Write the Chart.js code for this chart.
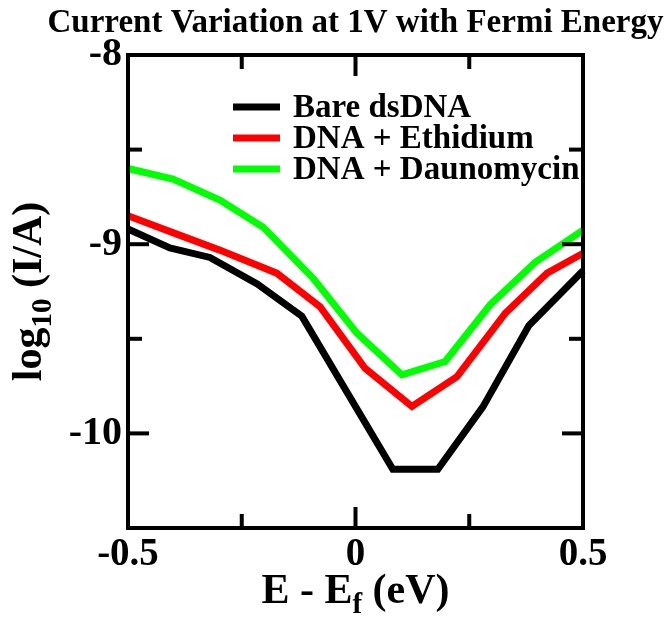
<!DOCTYPE html>
<html><head><meta charset="utf-8">
<script src="https://cdn.jsdelivr.net/npm/chart.js@4/dist/chart.umd.min.js"></script>
<style>html,body{margin:0;padding:0;background:#fff;font-family:'Liberation Serif',serif;}canvas{display:block;}</style>
</head><body>
<canvas id="c" width="669" height="620"></canvas>
<script>
const titleText = 'Current Variation at 1V with Fermi Energy';
const seriesNames = ['Bare dsDNA', 'DNA + Ethidium', 'DNA + Daunomycin'];
const seriesColors = ['#000000', '#ff0000', '#00ff00'];

const bareX = [-0.5, -0.408, -0.32, -0.216, -0.118, 0.082, 0.131, 0.181, 0.28, 0.381, 0.5];
const bareY = [-8.92, -9.02, -9.07, -9.21, -9.38, -10.19, -10.19, -10.19, -9.86, -9.43, -9.14];

const ethX = [-0.5, -0.4, -0.3, -0.173, -0.078, 0.021, 0.124, 0.223, 0.329, 0.421, 0.5];
const ethY = [-8.85, -8.94, -9.03, -9.153, -9.33, -9.656, -9.857, -9.70, -9.365, -9.153, -9.048];

const dauX = [-0.5, -0.401, -0.298, -0.203, -0.093, 0.003, 0.102, 0.197, 0.296, 0.395, 0.5];
const dauY = [-8.60, -8.656, -8.767, -8.91, -9.18, -9.47, -9.69, -9.62, -9.32, -9.095, -8.926];

const xMajorTicks = [-0.5, 0, 0.5];
const yMajorTicks = [-8, -9, -10];

const FONT = "Liberation Serif, Tinos, Times New Roman, DejaVu Serif, serif";

function pts(xs, ys) { return xs.map((x, i) => ({x: x, y: ys[i]})); }

const frameTicks = {
  id: 'frameTicks',
  afterDatasetsDraw(chart) {
    const {ctx, chartArea: a, scales: {x, y}} = chart;
    ctx.save();
    ctx.strokeStyle = '#000';
    ctx.lineWidth = 4;
    ctx.lineCap = 'butt';
    const line = (x1, y1, x2, y2) => { ctx.beginPath(); ctx.moveTo(x1, y1); ctx.lineTo(x2, y2); ctx.stroke(); };
    x.ticks.forEach(t => {
      const px = x.getPixelForValue(t.value);
      const len = xMajorTicks.includes(t.value) ? 21 : 14;
      line(px, a.bottom, px, a.bottom - len);
      line(px, a.top, px, a.top + len);
    });
    y.ticks.forEach(t => {
      const py = y.getPixelForValue(t.value);
      const len = yMajorTicks.includes(t.value) ? 21 : 14;
      line(a.left, py, a.left + len, py);
      line(a.right, py, a.right - len, py);
    });
    ctx.strokeRect(a.left, a.top, a.right - a.left, a.bottom - a.top);
    ctx.restore();
  }
};

const texts = {
  id: 'texts',
  afterDraw(chart) {
    const {ctx, chartArea: a} = chart;
    const cx = (a.left + a.right) / 2;
    const cy = (a.top + a.bottom) / 2;
    ctx.save();
    ctx.fillStyle = '#000';
    ctx.textBaseline = 'alphabetic';
    ctx.font = 'bold 33px ' + FONT;
    ctx.textAlign = 'center';
    ctx.fillText(titleText, cx, 32);

    ctx.textAlign = 'left';
    const big = 'bold 42px ' + FONT, small = 'bold 29px ' + FONT;
    const partsX = [['E - E', big, 0], ['f', small, 10], [' (eV)', big, 0]];
    let w = 0;
    partsX.forEach(p => { ctx.font = p[1]; w += ctx.measureText(p[0]).width; });
    let px = cx - w / 2;
    partsX.forEach(p => { ctx.font = p[1]; ctx.fillText(p[0], px, 603 + p[2]); px += ctx.measureText(p[0]).width; });

    ctx.translate(41, cy);
    ctx.rotate(-Math.PI / 2);
    const partsY = [['log', big, 0], ['10', small, 10], [' (I/A)', big, 0]];
    w = 0;
    partsY.forEach(p => { ctx.font = p[1]; w += ctx.measureText(p[0]).width; });
    px = -w / 2;
    partsY.forEach(p => { ctx.font = p[1]; ctx.fillText(p[0], px, p[2]); px += ctx.measureText(p[0]).width; });
    ctx.setTransform(1, 0, 0, 1, 0, 0);

    ctx.font = 'bold 33px ' + FONT;
    ctx.textAlign = 'left';
    chart.data.datasets.forEach((ds, i) => {
      const ly = 107 + i * 31;
      ctx.strokeStyle = ds.borderColor;
      ctx.lineWidth = 7;
      ctx.beginPath(); ctx.moveTo(233, ly); ctx.lineTo(280, ly); ctx.stroke();
      ctx.fillStyle = '#000';
      ctx.fillText(ds.label, 293, ly + 10);
    });
    ctx.restore();
  }
};

const chart = new Chart(document.getElementById('c'), {
  type: 'scatter',
  data: {
    datasets: [
      {label: seriesNames[0], data: pts(bareX, bareY), borderColor: seriesColors[0]},
      {label: seriesNames[1], data: pts(ethX, ethY), borderColor: seriesColors[1]},
      {label: seriesNames[2], data: pts(dauX, dauY), borderColor: seriesColors[2]}
    ].map(d => Object.assign(d, {showLine: true, borderWidth: 7, pointRadius: 0, tension: 0, fill: false, backgroundColor: d.borderColor, borderJoinStyle: 'miter', clip: false}))
  },
  options: {
    responsive: false,
    animation: false,
    devicePixelRatio: 1,
    layout: {padding: {top: 55, right: 86, left: 0, bottom: 0}},
    plugins: {legend: {display: false}, title: {display: false}, tooltip: {enabled: false}},
    scales: {
      x: {
        type: 'linear', min: -0.5, max: 0.5,
        grid: {display: false, drawTicks: false},
        border: {display: false},
        afterFit: s => { s.height = 92; },
        ticks: {
          stepSize: 0.25, autoSkip: false, maxRotation: 0, padding: 4, color: '#000',
          font: {family: FONT, size: 39, weight: 'bold'},
          callback: v => xMajorTicks.includes(v) ? String(v) : ''
        }
      },
      y: {
        type: 'linear', min: -10.5, max: -8,
        grid: {display: false, drawTicks: false},
        border: {display: false},
        afterFit: s => { s.width = 128; },
        ticks: {
          stepSize: 0.5, autoSkip: false, padding: 6, color: '#000',
          font: {family: FONT, size: 40, weight: 'bold'},
          callback: v => yMajorTicks.includes(v) ? String(v) : ''
        }
      }
    }
  },
  plugins: [frameTicks, texts]
});
</script>
</body></html>
